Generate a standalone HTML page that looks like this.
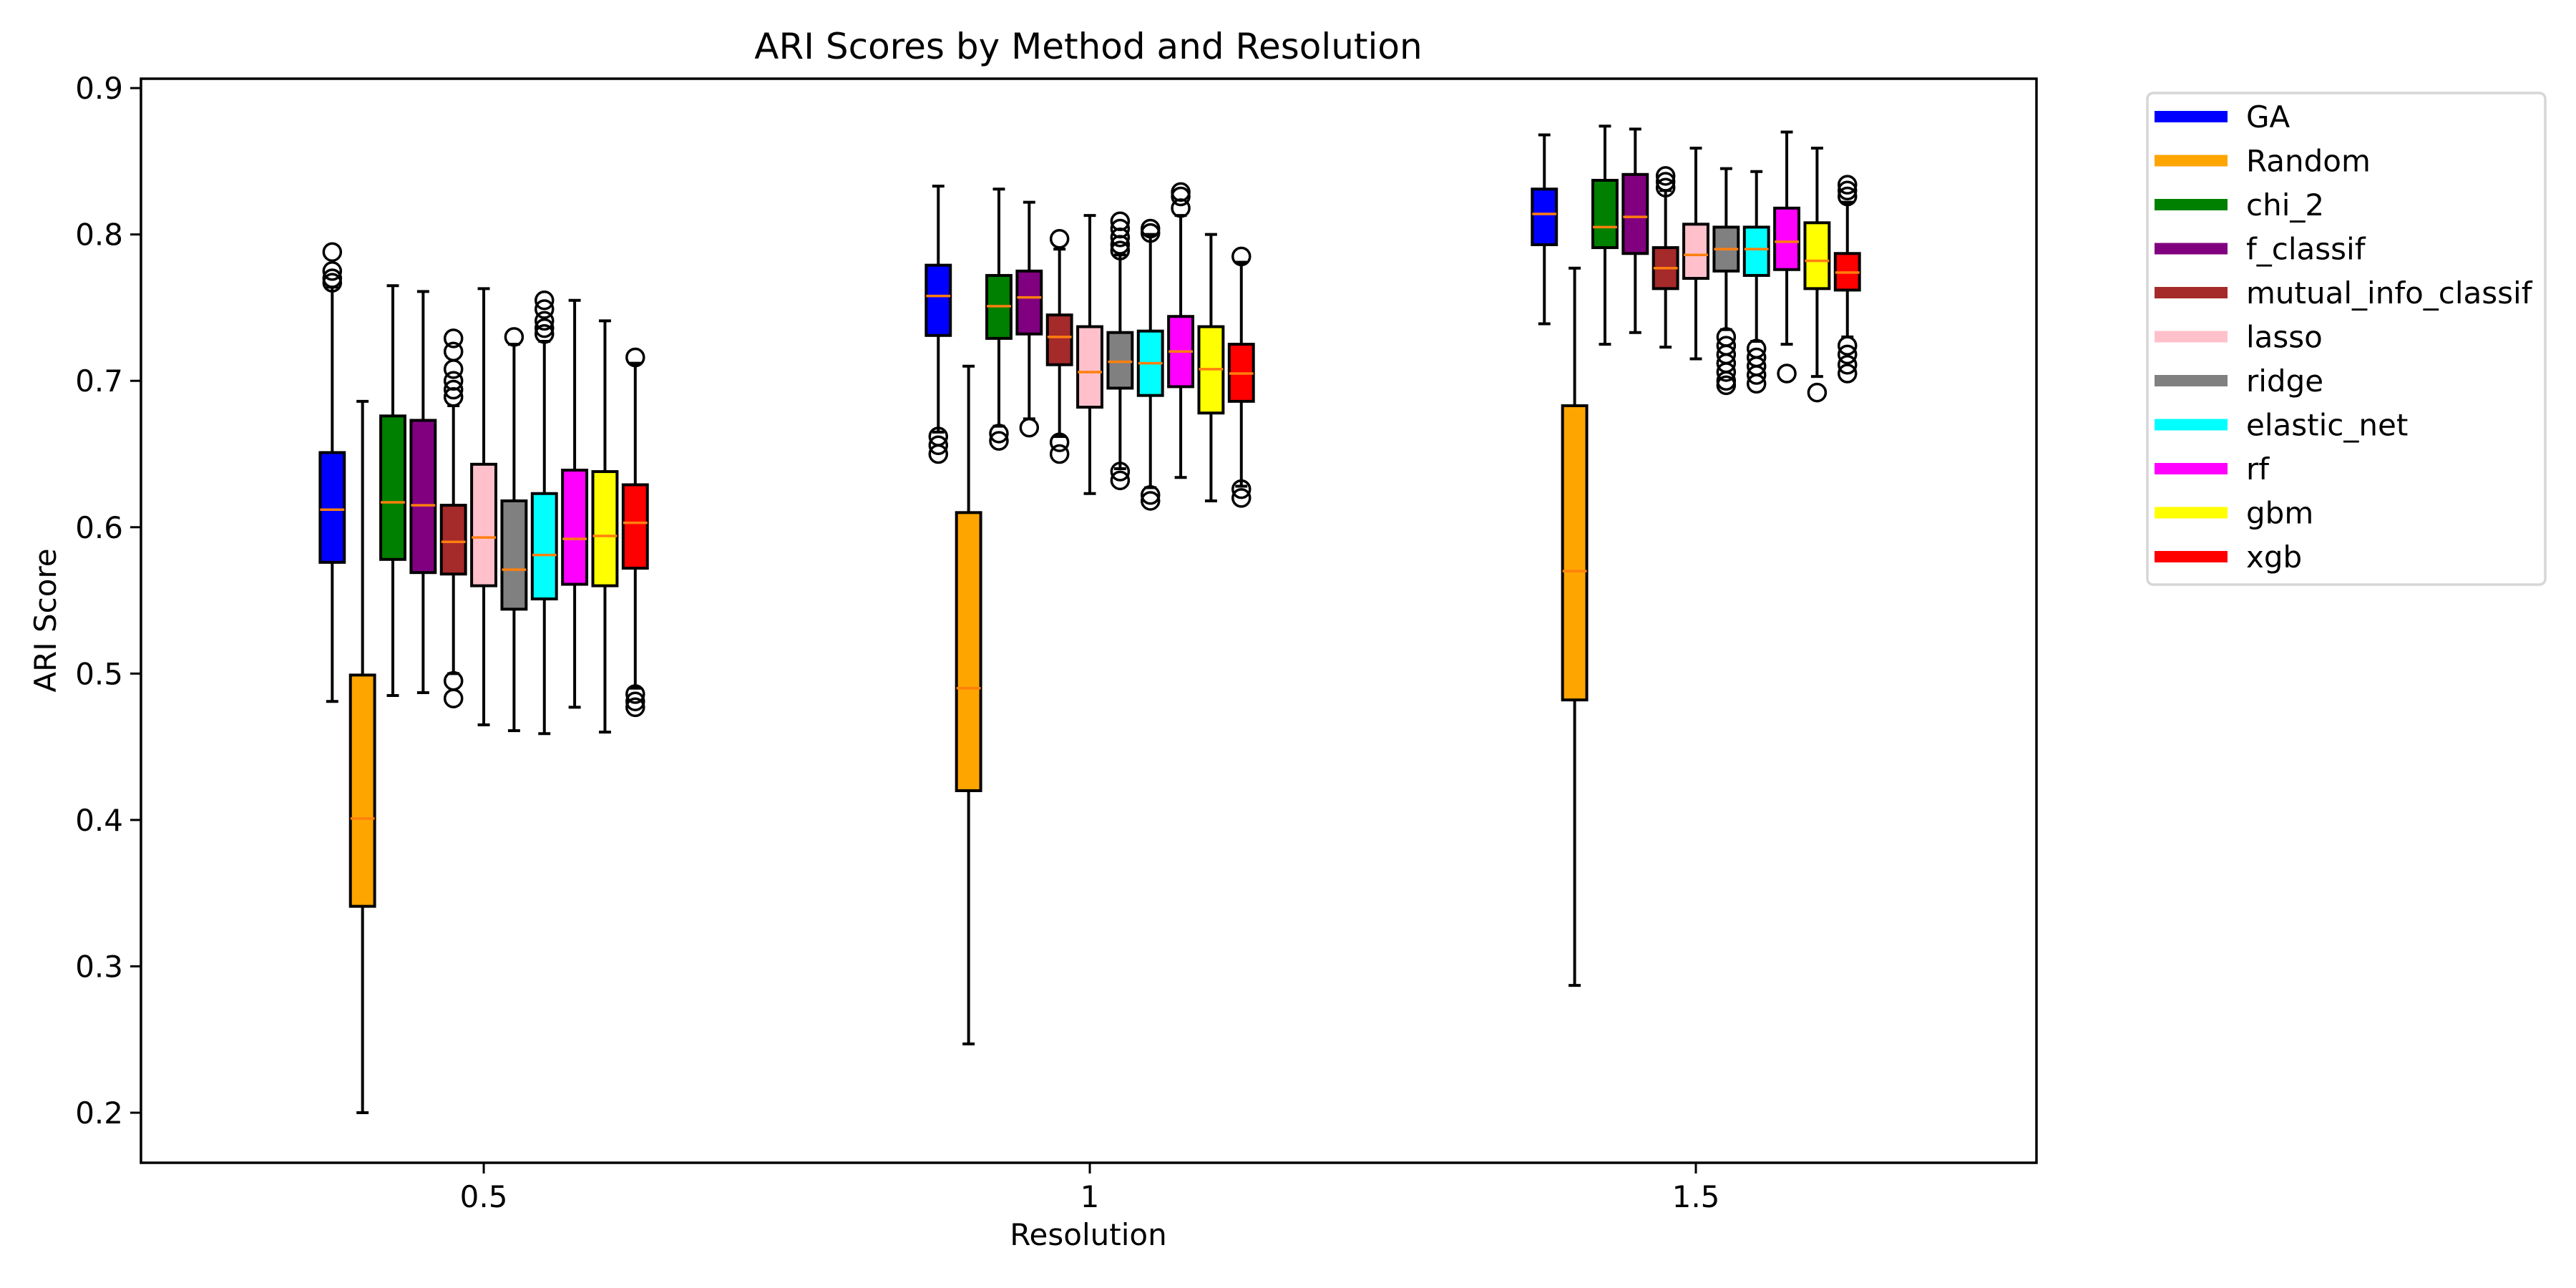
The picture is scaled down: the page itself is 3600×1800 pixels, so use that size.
<!DOCTYPE html>
<html><head><meta charset="utf-8"><style>
html,body{margin:0;padding:0;background:#fff;}
svg{display:block;font-family:"DejaVu Sans","Liberation Sans",sans-serif;}
</style></head><body>
<svg id="chart" width="3600" height="1800" viewBox="0 0 3600 1800" xmlns="http://www.w3.org/2000/svg">
<rect x="0" y="0" width="3600" height="1800" fill="#fff"/>
<text x="1521" y="82" font-size="50" text-anchor="middle">ARI Scores by Method and Resolution</text>
<text x="1521" y="1740" font-size="42" text-anchor="middle">Resolution</text>
<text transform="translate(78,867) rotate(-90)" font-size="42" text-anchor="middle">ARI Score</text>
<g id="plot"></g>
<g id="legend"></g>
</svg>
<script>
const methods = ["GA","Random","chi_2","f_classif","mutual_info_classif","lasso","ridge","elastic_net","rf","gbm","xgb"];
const colors = ["#0000ff","#ffa500","#008000","#800080","#a52a2a","#ffc0cb","#808080","#00ffff","#ff00ff","#ffff00","#ff0000"];
const resolutions = [0.5, 1, 1.5];
const xTickLabels = ["0.5","1","1.5"];
const yTicks = [0.2,0.3,0.4,0.5,0.6,0.7,0.8,0.9];
const yTickLabels = ["0.2","0.3","0.4","0.5","0.6","0.7","0.8","0.9"];
// per resolution, per method
const whiskLow = [
 [0.481,0.200,0.485,0.487,0.500,0.465,0.461,0.459,0.477,0.460,0.490],
 [0.665,0.247,0.669,0.674,0.662,0.623,0.640,0.627,0.634,0.618,0.628],
 [0.739,0.287,0.725,0.733,0.723,0.715,0.735,0.727,0.725,0.703,0.730]];
const q1 = [
 [0.576,0.341,0.578,0.569,0.568,0.560,0.544,0.551,0.561,0.560,0.572],
 [0.731,0.420,0.729,0.732,0.711,0.682,0.695,0.690,0.696,0.678,0.686],
 [0.793,0.482,0.791,0.787,0.763,0.770,0.775,0.772,0.776,0.763,0.762]];
const median = [
 [0.612,0.401,0.617,0.615,0.590,0.593,0.571,0.581,0.592,0.594,0.603],
 [0.758,0.490,0.751,0.757,0.730,0.706,0.713,0.712,0.720,0.708,0.705],
 [0.814,0.570,0.805,0.812,0.777,0.786,0.790,0.790,0.795,0.782,0.774]];
const q3 = [
 [0.651,0.499,0.676,0.673,0.615,0.643,0.618,0.623,0.639,0.638,0.629],
 [0.779,0.610,0.772,0.775,0.745,0.737,0.733,0.734,0.744,0.737,0.725],
 [0.831,0.683,0.837,0.841,0.791,0.807,0.805,0.805,0.818,0.808,0.787]];
const whiskHigh = [
 [0.764,0.686,0.765,0.761,0.683,0.763,0.725,0.727,0.755,0.741,0.712],
 [0.833,0.710,0.831,0.822,0.790,0.813,0.786,0.800,0.813,0.800,0.781],
 [0.868,0.777,0.874,0.872,0.830,0.859,0.845,0.843,0.870,0.859,0.822]];
const outliers = [
 [[0.788,0.775,0.770,0.767],[],[],[],[0.729,0.720,0.708,0.700,0.694,0.689,0.495,0.483],[],[0.730],[0.755,0.749,0.741,0.736,0.732],[],[],[0.716,0.486,0.481,0.477]],
 [[0.662,0.656,0.650],[],[0.664,0.659],[0.668],[0.797,0.658,0.650],[],[0.809,0.804,0.798,0.793,0.789,0.638,0.632],[0.804,0.801,0.622,0.618],[0.829,0.826,0.818],[],[0.785,0.626,0.620]],
 [[],[],[],[],[0.840,0.836,0.832],[],[0.730,0.724,0.718,0.712,0.706,0.700,0.697],[0.722,0.716,0.710,0.704,0.698],[0.705],[0.692],[0.834,0.830,0.826,0.724,0.718,0.711,0.705]]];

const X0 = 197, X1 = 2846, Y0 = 110, Y1 = 1625;
const xMin = 0.2172, xMax = 1.781, yMin = 0.1658, yMax = 0.9064;
function xs(v){ return X0 + (v - xMin) / (xMax - xMin) * (X1 - X0); }
function ys(v){ return Y1 - (v - yMin) / (yMax - yMin) * (Y1 - Y0); }
const NS = "http://www.w3.org/2000/svg";
function mk(tag, attrs, parent){ const e = document.createElementNS(NS, tag); for (const k in attrs) e.setAttribute(k, attrs[k]); parent.appendChild(e); return e; }
const plot = document.getElementById('plot');
const step = 0.025, boxW = 0.02;

// ticks
yTicks.forEach((t,i)=>{
  const y = ys(t);
  const tk = mk('line',{x1:X0-15,x2:X0,y1:y,y2:y,stroke:'#000','stroke-width':3},plot);
  
  
  const lb = mk('text',{x:X0-25,y:y+15,'font-size':42,'text-anchor':'end'},plot);
  lb.textContent = yTickLabels[i];
  
  
});
resolutions.forEach((r,i)=>{
  const x = xs(r);
  const tk = mk('line',{x1:x,x2:x,y1:Y1,y2:Y1+15,stroke:'#000','stroke-width':3},plot);
  
  
  const lb = mk('text',{x:x,y:Y1+62,'font-size':42,'text-anchor':'middle'},plot);
  lb.textContent = xTickLabels[i];
  
  
});

// boxes
resolutions.forEach((r,ri)=>{
  methods.forEach((m,mi)=>{
    const c = xs(r + (mi-5)*step);
    const hw = (xs(boxW) - xs(0))/2;
    const g = mk('g',{},plot);
    
    
    mk('line',{x1:c,x2:c,y1:ys(q3[ri][mi]),y2:ys(whiskHigh[ri][mi]),stroke:'#000','stroke-width':4},g);
    mk('line',{x1:c,x2:c,y1:ys(q1[ri][mi]),y2:ys(whiskLow[ri][mi]),stroke:'#000','stroke-width':4},g);
    mk('line',{x1:c-hw/2,x2:c+hw/2,y1:ys(whiskHigh[ri][mi]),y2:ys(whiskHigh[ri][mi]),stroke:'#000','stroke-width':4},g);
    mk('line',{x1:c-hw/2,x2:c+hw/2,y1:ys(whiskLow[ri][mi]),y2:ys(whiskLow[ri][mi]),stroke:'#000','stroke-width':4},g);
    mk('rect',{x:c-hw,y:ys(q3[ri][mi]),width:2*hw,height:ys(q1[ri][mi])-ys(q3[ri][mi]),fill:colors[mi],stroke:'#000','stroke-width':4},g);
    mk('line',{x1:c-hw,x2:c+hw,y1:ys(median[ri][mi]),y2:ys(median[ri][mi]),stroke:'#ff7f0e','stroke-width':3.5},g);
    outliers[ri][mi].forEach(v=>{
      const o = mk('circle',{cx:c,cy:ys(v),r:12,fill:'none',stroke:'#000','stroke-width':3.5},g);
      
      
    });
  });
});

// frame
const fr = mk('rect',{x:X0,y:Y0,width:X1-X0,height:Y1-Y0,fill:'none',stroke:'#000','stroke-width':3.5},plot);



// legend
const lg = document.getElementById('legend');
const lb = mk('rect',{x:3001,y:130,width:556,height:687,rx:8,fill:'#fff',stroke:'#d6d6d6','stroke-width':3.5},lg);


methods.forEach((m,mi)=>{
  const y = 163 + mi*61.5;
  const g = mk('g',{},lg);
  
  
  mk('rect',{x:3011,y:y-8,width:102,height:16,fill:colors[mi]},g);
  const t = mk('text',{x:3139,y:y+15,'font-size':42},g);
  t.textContent = m;
});
</script>
</body></html>
